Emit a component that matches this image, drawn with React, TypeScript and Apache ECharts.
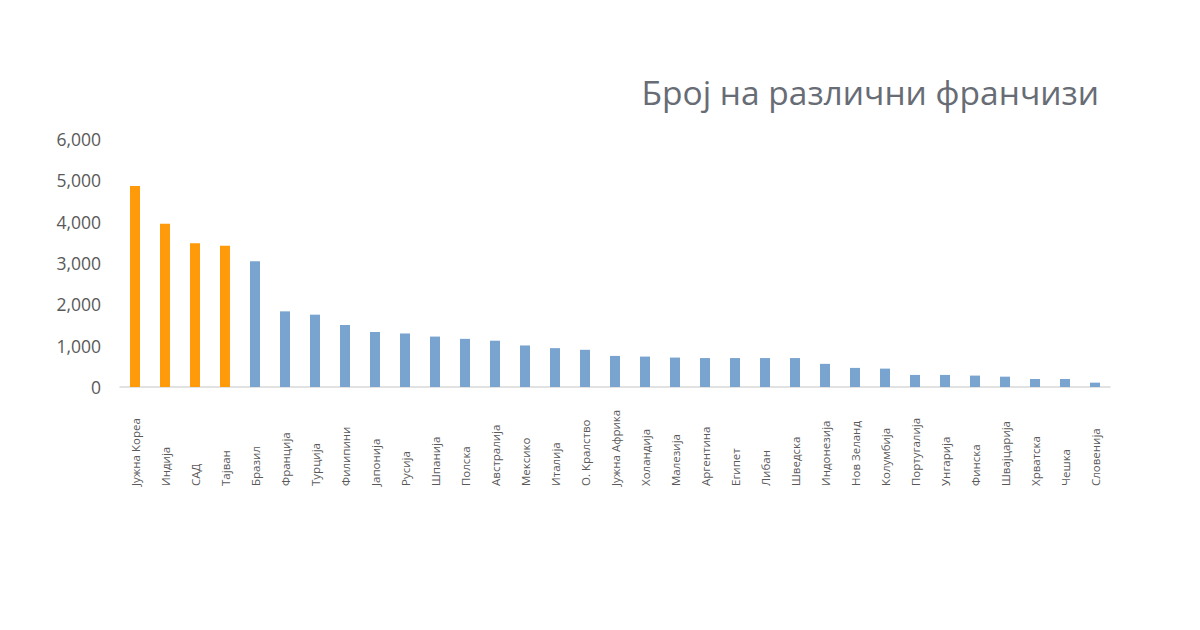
import React, { useEffect, useRef } from "react";
import * as echarts from "echarts";

const countries = [
  "Јужна Кореа", "Индија", "САД", "Тајван", "Бразил", "Франција", "Турција", "Филипини",
  "Јапонија", "Русија", "Шпанија", "Полска", "Австралија", "Мексико", "Италија", "О. Кралство",
  "Јужна Африка", "Холандија", "Малезија", "Аргентина", "Египет", "Либан", "Шведска", "Индонезија",
  "Нов Зеланд", "Колумбија", "Португалија", "Унгарија", "Финска", "Швајцарија", "Хрватска", "Чешка",
  "Словенија",
];

const franchises = [
  4860, 3950, 3480, 3420, 3040, 1830, 1750, 1500,
  1330, 1295, 1220, 1165, 1120, 1005, 940, 900,
  752, 736, 712, 700, 700, 700, 700, 560,
  462, 445, 292, 292, 276, 250, 194, 194,
  105,
];

const highlightCount = 4;
const orange = "#FF9A0A";
const blue = "#78A4CF";

export default function App() {
  const ref = useRef<HTMLDivElement>(null);
  useEffect(() => {
    if (!ref.current) return;
    const chart = echarts.init(ref.current, undefined, { renderer: "svg" });
    chart.setOption({
      animation: false,
      backgroundColor: "#ffffff",
      title: {
        text: "Број на различни франчизи",
        right: 96,
        top: 70,
        textStyle: {
          fontFamily: "Open Sans",
          fontSize: 33.5,
          fontWeight: "normal",
          color: "#676C75",
        },
      },
      grid: { left: 120, right: 90, top: 139, bottom: 243, containLabel: false },
      xAxis: {
        type: "category",
        data: countries,
        axisLine: { show: true, lineStyle: { color: "#D9D9D9", width: 1.5 } },
        axisTick: { show: false },
        axisLabel: {
          interval: 0,
          rotate: 90,
          align: "left",
          margin: 99,
          fontFamily: "Open Sans",
          fontSize: 11.5,
          color: "#595959",
        },
      },
      yAxis: {
        type: "value",
        min: 0,
        max: 6000,
        interval: 1000,
        splitLine: { show: false },
        axisLine: { show: false },
        axisTick: { show: false },
        axisLabel: {
          margin: 19,
          fontFamily: "Open Sans",
          fontSize: 17.5,
          color: "#595959",
          formatter: (v: number) => v.toLocaleString("en-US"),
        },
      },
      series: [
        {
          type: "bar",
          barWidth: 10,
          data: franchises.map((v, i) => ({
            value: v,
            itemStyle: { color: i < highlightCount ? orange : blue },
          })),
        },
      ],
    });
    return () => chart.dispose();
  }, []);
  return (
    <div
      ref={ref}
      style={{ position: "fixed", left: 0, top: 0, width: 1200, height: 630 }}
    />
  );
}
